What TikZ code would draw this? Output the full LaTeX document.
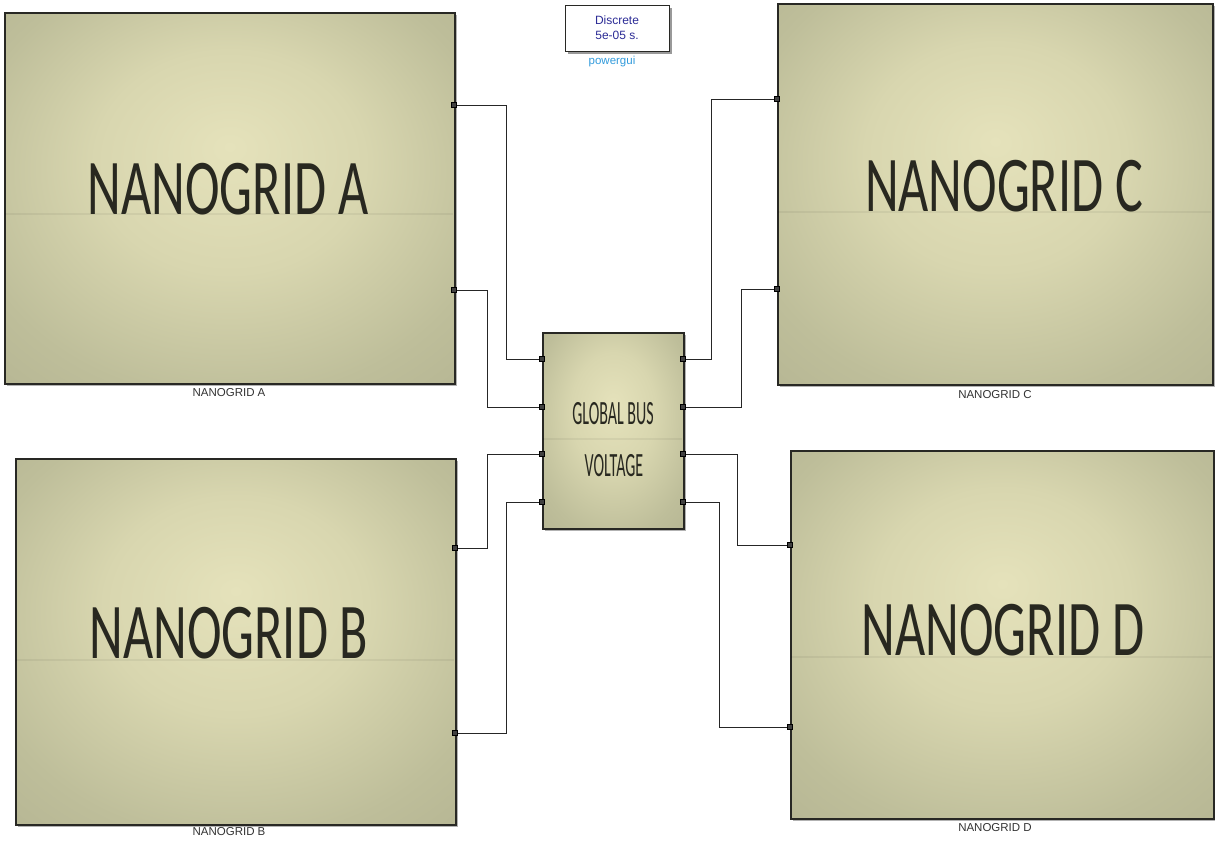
\documentclass[tikz,border=0pt]{standalone}
\usepackage{fontspec}
\setmainfont{Liberation Sans}
\newfontfamily\calib{Carlito}
\usepackage{graphicx}
\usetikzlibrary{shadows}
\definecolor{gin}{RGB}{229,226,187}
\definecolor{gmid}{RGB}{216,214,175}
\definecolor{gedge}{RGB}{190,190,154}
\definecolor{gcorner}{RGB}{180,180,146}
\definecolor{framecol}{RGB}{40,40,36}
\definecolor{txtcol}{RGB}{40,40,32}
\definecolor{pgblue}{RGB}{44,44,150}
\definecolor{pglight}{RGB}{50,155,220}
\pgfdeclareradialshading{boxshade}{\pgfpoint{0bp}{7bp}}{color(0bp)=(gin); color(15bp)=(gmid); color(30bp)=(gedge); color(40bp)=(gcorner); color(50bp)=(gcorner)}
\newcommand\sqz[2]{\scalebox{#1}[1]{#2}}
\begin{document}
\begin{tikzpicture}[x=1pt,y=-1pt,
  gbox/.style={draw=framecol, line width=1.5pt, shading=boxshade, inner sep=0pt, anchor=north west,
    drop shadow={shadow xshift=2.5pt, shadow yshift=-2.5pt, opacity=.3, fill=black}},
  pgbox/.style={draw=framecol, line width=1pt, fill=white, inner sep=0pt, anchor=north west,
    drop shadow={shadow xshift=2pt, shadow yshift=-2pt, opacity=.4, fill=black}},
  bigtxt/.style={font=\calib\fontsize{79}{79}\selectfont, text=txtcol, inner sep=0pt},
  bustxt/.style={font=\calib\fontsize{34}{34}\selectfont, text=txtcol, inner sep=0pt},
  lbl/.style={font=\fontsize{11.5}{12}\selectfont, text=black!80, inner sep=0pt},
  port/.style={draw=black, fill=black!75, minimum size=5pt, inner sep=0pt, line width=1.2pt},
  wire/.style={draw=black!85, line width=1pt},
  streak/.style={draw=black, opacity=.05, line width=1.5pt}]
\useasboundingbox (0,0) rectangle (1215,841);
\fill[white] (0,0) rectangle (1215,841);

% blocks
\node[gbox, minimum width=450pt, minimum height=371pt] (A) at (4,12) {};
\node[gbox, minimum width=440pt, minimum height=366pt] (B) at (15,458) {};
\node[gbox, minimum width=435pt, minimum height=381pt] (C) at (777,3) {};
\node[gbox, minimum width=423pt, minimum height=368pt] (D) at (790,450) {};
\node[gbox, minimum width=141pt, minimum height=196pt] (G) at (542,332) {};
\node[pgbox, minimum width=104pt, minimum height=46pt] (P) at (565,5) {};

% faint streaks
\draw[streak] (5,214) -- (453,214);
\draw[streak] (16,660) -- (454,660);
\draw[streak] (778,212) -- (1211,212);
\draw[streak] (791,657) -- (1212,657);
\draw[streak] (543,439) -- (682,439);

% big texts
\node[bigtxt] (At) at (228,189) {\sqz{0.66}{NANOGRID A}};
\node[bigtxt] (Bt) at (229,633) {\sqz{0.66}{NANOGRID B}};
\node[bigtxt] (Ct) at (1004,186) {\sqz{0.66}{NANOGRID C}};
\node[bigtxt] (Dt) at (1003,630) {\sqz{0.66}{NANOGRID D}};
\node[bustxt] (Gt1) at (613,414) {\sqz{0.47}{GLOBAL BUS}};
\node[bustxt] (Gt2) at (614,466) {\sqz{0.47}{VOLTAGE}};

% powergui
\node[font=\fontsize{12}{12}\selectfont, text=pgblue, inner sep=0pt] (P1) at (617,20) {Discrete};
\node[font=\fontsize{12}{12}\selectfont, text=pgblue, inner sep=0pt] (P2) at (617,35) {5e-05 s.};
\node[font=\fontsize{11.5}{12}\selectfont, text=pglight, inner sep=0pt] (P3) at (612,62) {powergui};

% labels
\node[lbl] (Al) at (229,393) {NANOGRID A};
\node[lbl] (Bl) at (229,832) {NANOGRID B};
\node[lbl] (Cl) at (995,395) {NANOGRID C};
\node[lbl] (Dl) at (995,828) {NANOGRID D};

% ports
\node[port] (Ap1) at (454,105) {};
\node[port] (Ap2) at (454,290) {};
\node[port] (Bp1) at (455,548) {};
\node[port] (Bp2) at (455,733) {};
\node[port] (Cp1) at (777,99) {};
\node[port] (Cp2) at (777,289) {};
\node[port] (Dp1) at (790,545) {};
\node[port] (Dp2) at (790,727) {};
\node[port] (Gl1) at (542,359) {};
\node[port] (Gl2) at (542,407) {};
\node[port] (Gl3) at (542,454) {};
\node[port] (Gl4) at (542,502) {};
\node[port] (Gr1) at (683,359) {};
\node[port] (Gr2) at (683,407) {};
\node[port] (Gr3) at (683,454) {};
\node[port] (Gr4) at (683,502) {};

% wires
\draw[wire] (Ap1) -- ++(52,0) |- (Gl1);
\draw[wire] (Ap2) -- ++(33,0) |- (Gl2);
\draw[wire] (Bp1) -- ++(32,0) |- (Gl3);
\draw[wire] (Bp2) -- ++(51,0) |- (Gl4);
\draw[wire] (Gr1) -- ++(28,0) |- (Cp1);
\draw[wire] (Gr2) -- ++(58,0) |- (Cp2);
\draw[wire] (Gr3) -- ++(54,0) |- (Dp1);
\draw[wire] (Gr4) -- ++(36,0) |- (Dp2);
\end{tikzpicture}
\end{document}
